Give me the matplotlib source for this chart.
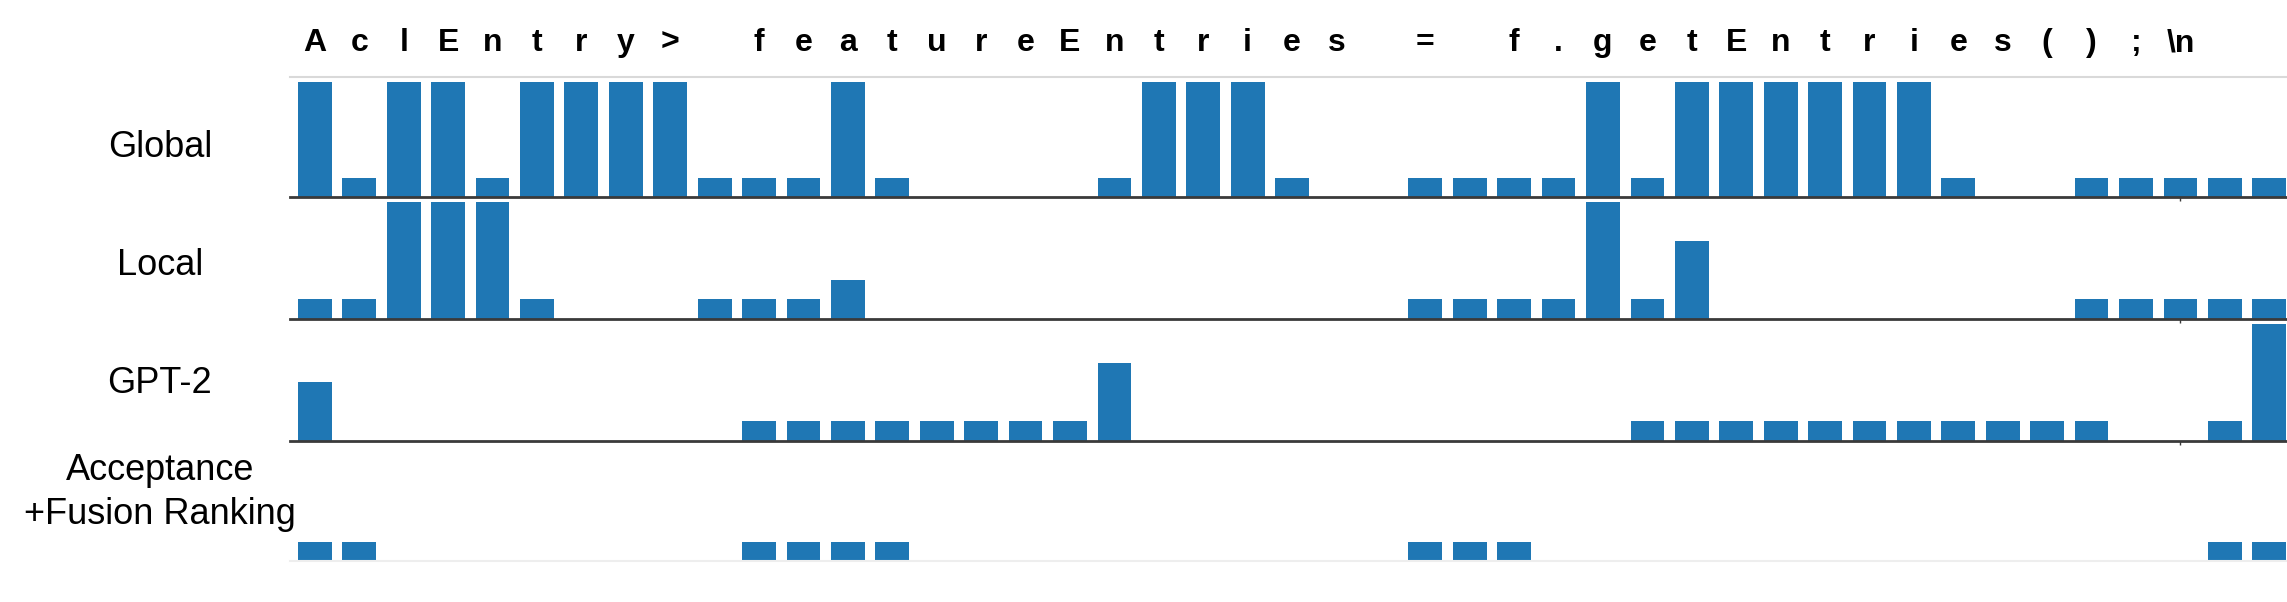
import matplotlib
matplotlib.use("Agg")
import matplotlib.pyplot as plt
import numpy as np

tokens = ["A", "c", "l", "E", "n", "t", "r", "y", ">", "",
          "f", "e", "a", "t", "u", "r", "e", "E", "n", "t", "r", "i", "e", "s", "",
          "=", "", "f", ".", "g", "e", "t", "E", "n", "t", "r", "i", "e", "s",
          "(", ")", ";", "\\n"]

row_labels = ["Global", "Local", "GPT-2", "Acceptance\n+Fusion Ranking"]

global_vals = [6, 1, 6, 6, 1, 6, 6, 6, 6, 1, 1, 1, 6, 1, 0, 0, 0, 0, 1, 6, 6, 6, 1,
               0, 0, 1, 1, 1, 1, 6, 1, 6, 6, 6, 6, 6, 6, 1, 0, 0, 1, 1, 1, 1, 1]
local_vals = [1, 1, 6, 6, 6, 1, 0, 0, 0, 1, 1, 1, 2, 0, 0, 0, 0, 0, 0, 0, 0, 0, 0,
              0, 0, 1, 1, 1, 1, 6, 1, 4, 0, 0, 0, 0, 0, 0, 0, 0, 1, 1, 1, 1, 1]
gpt2_vals = [3, 0, 0, 0, 0, 0, 0, 0, 0, 0, 1, 1, 1, 1, 1, 1, 1, 1, 4, 0, 0, 0, 0,
             0, 0, 0, 0, 0, 0, 0, 1, 1, 1, 1, 1, 1, 1, 1, 1, 1, 1, 0, 0, 1, 6]
accept_vals = [1, 1, 0, 0, 0, 0, 0, 0, 0, 0, 1, 1, 1, 1, 0, 0, 0, 0, 0, 0, 0, 0, 0,
               0, 0, 1, 1, 1, 0, 0, 0, 0, 0, 0, 0, 0, 0, 0, 0, 0, 0, 0, 0, 1, 1]

series = [global_vals, local_vals, gpt2_vals, accept_vals]

W, H = 2287, 602
fig = plt.figure(figsize=(W / 100, H / 100), dpi=100)

rows_px = [(77, 197), (197, 319), (319, 441), (441, 561)]
label_baselines = [[157], [275], [393], [480, 524]]
bar_color = "#1f77b4"
x = np.arange(len(global_vals))

axes = []
for i, ((top, bot), vals) in enumerate(zip(rows_px, series)):
    ax = fig.add_axes([290 / W, 1 - bot / H, (W - 290) / W, (bot - top) / H])
    ax.bar(x, vals, width=0.76, color=bar_color)
    ax.set_xlim(-0.56, 44.4)
    ax.set_ylim(0, 6.25)
    ax.set_yticks([])
    ax.spines["left"].set_visible(False)
    ax.spines["right"].set_visible(False)
    if i == 0:
        ax.spines["top"].set_color("#d9d9d9")
        ax.spines["top"].set_linewidth(1.5)
    else:
        ax.spines["top"].set_visible(False)
    if i < 3:
        ax.spines["bottom"].set_color("#3a3a3a")
        ax.spines["bottom"].set_linewidth(2.0)
        ax.set_xticks([42])
        ax.set_xticklabels([])
        ax.tick_params(axis="x", length=3, width=1, color="#3a3a3a", direction="out")
    else:
        ax.spines["bottom"].set_color("#eeeeee")
        ax.spines["bottom"].set_linewidth(1.5)
        ax.set_xticks([])
    ax.patch.set_alpha(0)
    axes.append(ax)

# Top token labels
ax0 = axes[0]
for j, tok in enumerate(tokens):
    if tok:
        ax0.text(j, (197 - 51) / 120, tok, transform=ax0.get_xaxis_transform(),
                 ha="center", va="baseline", fontsize=23, fontweight="bold",
                 family=["Liberation Sans", "DejaVu Sans"], color="black")

# Row labels
for lab, bases in zip(row_labels, label_baselines):
    lines = lab.split("\n")
    for line, b in zip(lines, bases):
        fig.text(160 / W, 1 - b / H, line, ha="center", va="baseline",
                 fontsize=26, family=["Liberation Sans", "DejaVu Sans"], color="black")

fig.savefig("out.png", dpi=100, facecolor="white")
